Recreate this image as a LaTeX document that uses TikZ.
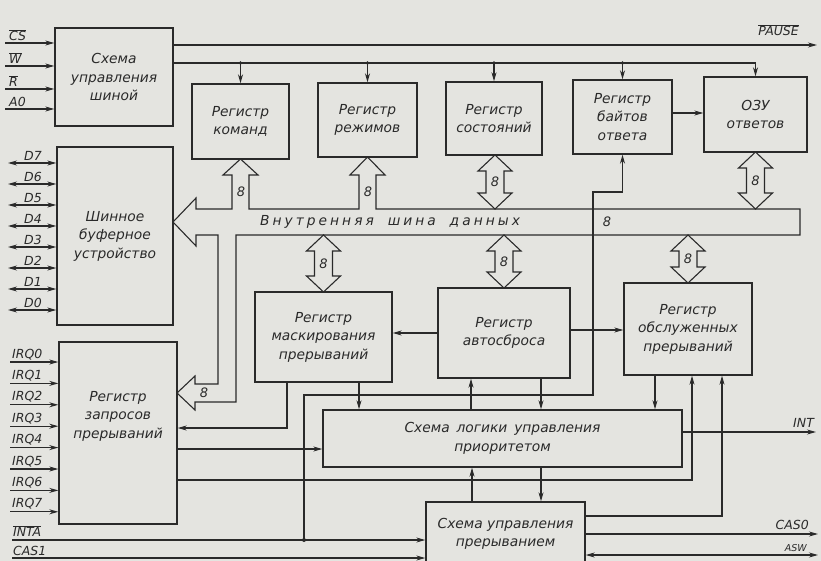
\documentclass[tikz,border=0pt]{standalone}
\usepackage{fontspec}
\setmainfont{DejaVu Sans}
\newfontfamily\busfont[LetterSpace=22]{DejaVu Sans}
\usetikzlibrary{arrows.meta}
\definecolor{paper}{HTML}{E4E4E0}
\definecolor{ink}{HTML}{2A2A2A}
\newcommand\boxfont{\fontsize{13.8}{18.5}\selectfont\itshape}
\newcommand\sigfont{\fontsize{12.5}{14}\selectfont\itshape}
\newcommand\ov[1]{$\overline{\mbox{#1}}$}

\tikzset{
  blk/.style={draw=ink, line width=1.4pt, inner sep=0pt, align=center, font=\boxfont, text=ink},
  sig/.style={draw=ink, line width=1.1pt},
  bus/.style={draw=ink, line width=1.1pt, line join=miter},
  lbl/.style={font=\sigfont, text=ink, inner sep=1pt},
  eight/.style={font=\fontsize{13}{14}\selectfont\itshape, text=ink, inner sep=0.5pt}
}

\begin{document}
\begin{tikzpicture}[x=1pt, y=-1pt, >={Stealth[length=9pt,width=5pt]}]
  \useasboundingbox (0,0) rectangle (821,561);
  \clip (0,0) rectangle (821,561);
  \fill[paper] (0,0) rectangle (821,561);

  % blocks
  \node[blk, minimum width=118pt, minimum height=98pt] (busctl) at (114,77) {Схема\\управления\\шиной};
  \node[blk, minimum width=116pt, minimum height=178pt] (buf) at (115,236) {Шинное\\буферное\\устройство};
  \node[blk, minimum width=118pt, minimum height=182pt] (irr) at (118,433) {};
  \node[font=\boxfont, text=ink, align=center] (irrtxt) at (118,416) {Регистр\\запросов\\прерываний};
  \node[blk, minimum width=97pt, minimum height=75pt] (cmd) at (240.5,121.5) {Регистр\\команд};
  \node[blk, minimum width=99pt, minimum height=74pt] (mode) at (367.5,120) {Регистр\\режимов};
  \node[blk, minimum width=96pt, minimum height=73pt] (stat) at (494,118.5) {Регистр\\состояний};
  \node[blk, minimum width=99pt, minimum height=74pt] (resp) at (622.5,117) {Регистр\\байтов\\ответа};
  \node[blk, minimum width=103pt, minimum height=75pt] (ram) at (755.5,114.5) {ОЗУ\\ответов};
  \node[blk, minimum width=137pt, minimum height=90pt] (mask) at (323.5,337) {Регистр\\маскирования\\прерываний};
  \node[blk, minimum width=132pt, minimum height=90pt] (auto) at (504,333) {Регистр\\автосброса};
  \node[blk, minimum width=128pt, minimum height=92pt] (isr) at (688,329) {Регистр\\обслуженных\\прерываний};
  \node[blk, minimum width=359pt, minimum height=57pt] (prio) at (502.5,438.5) {Схема\enspace логики\enspace управления\\приоритетом};
  \node[blk, minimum width=159pt, minimum height=64pt] (intctl) at (505.5,534) {Схема управления\\прерыванием};

  % bus control inputs
  \foreach \y/\t in {43/\ov{CS}, 66/\ov{W}, 89/\ov{R}, 109/A0} {
    \draw[sig,->] (5,\y) -- (busctl.west |- 0,\y);
    \node[lbl, anchor=south west] (in\y) at (8,\y-1) {\t};
  }

  % data lines
  \foreach \y/\n in {163/7, 184/6, 205/5, 226/4, 247/3, 268/2, 289/1, 310/0} {
    \draw[sig,<->] (8,\y) -- (buf.west |- 0,\y);
    \node[lbl, anchor=south] (d\n) at (33,\y-1) {D\n};
  }

  % interrupt requests
  \foreach \i in {0,...,7} {
    \pgfmathsetmacro\yy{362+21.4*\i}
    \draw[sig,->] (10,\yy) -- (irr.west |- 0,\yy);
    \node[lbl, anchor=south west] (irq\i) at (11,\yy-1) {IRQ\i};
  }

  % control lines from bus control
  \draw[sig,->] (busctl.east |- 0,45) -- (817,45);
  \node[lbl, anchor=south east] (lblpause) at (800,37) {\ov{PAUSE}};
  \draw[sig,->] (busctl.east |- 0,63) -- (ram.north |- 0,63) -- (ram.north);
  \foreach \b in {cmd,mode,stat,resp} {
    \draw[sig,->] (\b.north |- 0,63) -- (\b.north);
    \fill[ink] (\b.north |- 0,63) circle (1.8);
  }
  \draw[sig,->] (resp.east |- 0,113) -- (ram.west |- 0,113);

  % internal data bus
  \draw[bus] (173,222) -- (196,198) -- (196,209) -- (232,209) -- (232,175) -- (223,175)
    -- (240.5,159) -- (258,175) -- (249,175) -- (249,209) -- (359,209) -- (359,175)
    -- (350,175) -- (367.5,157) -- (385,175) -- (376,175) -- (376,209) -- (800,209)
    -- (800,235) -- (236,235) -- (236,402) -- (195,402) -- (195,410) -- (177,393)
    -- (195,376) -- (195,384) -- (218,384) -- (218,235) -- (196,235) -- (196,246) -- cycle;
  \node[font=\busfont\fontsize{13.8}{16}\selectfont\itshape, text=ink] (bustxt) at (390,222) {Внутренняя\quad шина\quad данных};
  \node[eight] (w1) at (241,192) {8};
  \node[eight] (w2) at (368,192) {8};
  \node[eight] (w3) at (204,393) {8};
  \node[eight] (w4) at (607,222) {8};
  \foreach \x/\a/\b in {495/155/209, 755.5/152/209, 323.5/235/292, 504/235/288, 688/235/283} {
    \draw[bus] (\x,\a) -- ++(17,16) -- ++(-8,0) -- (\x+9,\b-16) -- ++(8,0) -- (\x,\b)
      -- ++(-17,-16) -- ++(8,0) -- (\x-9,\a+16) -- ++(-8,0) -- cycle;
    \node[eight] at ({\x},{(\a+\b)/2}) {8};
  }

  % links between registers
  \draw[sig,->] (auto.west |- 0,333) -- (mask.east |- 0,333);
  \draw[sig,->] (auto.east |- 0,330) -- (isr.west |- 0,330);
  \draw[sig,->] (mask.south -| 287,0) -- (287,428) -- (irr.east |- 0,428);
  \draw[sig,->] (irr.east |- 0,449) -- (prio.west |- 0,449);
  \draw[sig,->] (irr.east |- 0,480) -- (692,480) -- (isr.south -| 692,0);
  \draw[sig,->] (mask.south -| 359,0) -- (prio.north -| 359,0);
  \draw[sig,->] (prio.north -| 471,0) -- (auto.south -| 471,0);
  \draw[sig,->] (auto.south -| 541,0) -- (prio.north -| 541,0);
  \draw[sig,->] (isr.south -| 655,0) -- (prio.north -| 655,0);
  \draw[sig,->] (intctl.north -| 472,0) -- (prio.south -| 472,0);
  \draw[sig,->] (prio.south -| 541,0) -- (intctl.north -| 541,0);
  \draw[sig,->] (intctl.east |- 0,516) -- (722,516) -- (isr.south -| 722,0);

  % outputs
  \draw[sig,->] (prio.east |- 0,432) -- (816,432);
  \node[lbl, anchor=south west] (lblint) at (792,429) {INT};
  \draw[sig,->] (intctl.east |- 0,534) -- (818,534);
  \node[lbl, anchor=south east] (lblcas0) at (810,531) {CAS0};
  \draw[sig,<->] (intctl.east |- 0,555) -- (818,555);
  \node[lbl, font=\fontsize{9.5}{10}\selectfont\itshape, anchor=south east] (lblasw) at (808,553) {ASW};

  % acknowledge and cascade inputs
  \draw[sig,->] (12,540) -- (intctl.west |- 0,540);
  \node[lbl, anchor=south west] (lblinta) at (12,538) {\ov{INTA}};
  \fill[ink] (304,540) circle (2);
  \draw[sig,->] (304,540) -- (304,395) -- (593,395) -- (593,192) -- (resp.south |- 0,192) -- (resp.south);
  \draw[sig,->] (12,558) -- (intctl.west |- 0,558);
  \node[lbl, anchor=south west] (lblcas1) at (12,557) {CAS1};
\end{tikzpicture}
\end{document}
